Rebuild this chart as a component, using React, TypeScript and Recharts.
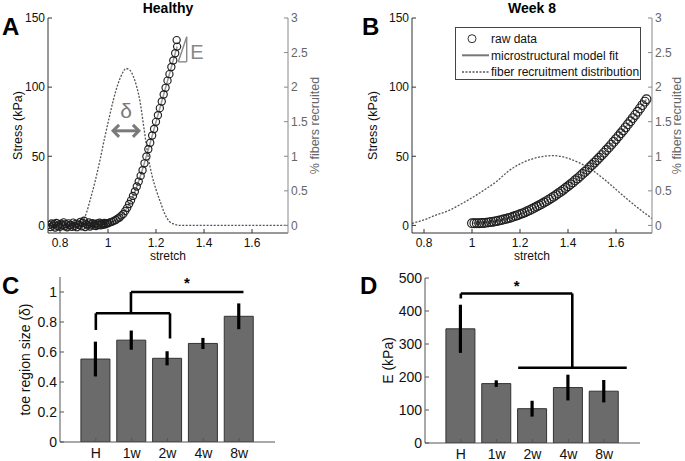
import React from 'react';
import {
  ComposedChart, Scatter, Line, XAxis, YAxis, ReferenceLine, ReferenceDot,
  BarChart, Bar, ErrorBar,
} from 'recharts';

// ---- panel A (healthy) : [stretch, stress kPa]
const rawA: [number, number][] = [
  [0.755, 0.2], [0.76, -1.2], [0.765, 1.4], [0.77, -0.2], [0.775, 1.0], [0.78, -1.5], [0.785, 1.8],
  [0.79, -0.5], [0.795, 0.6], [0.8, -1.0], [0.805, 1.2], [0.81, 0.1], [0.815, 2.2], [0.82, -0.7],
  [0.825, 0.8], [0.83, -1.4], [0.835, 1.5], [0.84, -0.1], [0.845, 0.4], [0.85, -1.1], [0.855, 2.0],
  [0.86, -0.4], [0.865, 1.1], [0.87, -1.3], [0.875, 1.3], [0.88, 0.2], [0.885, 2.6], [0.89, -0.6],
  [0.895, 1.7], [0.9, 3.4], [0.905, -1.2], [0.91, 0.9], [0.915, 0.0], [0.92, 2.1], [0.925, -0.8],
  [0.93, 0.7], [0.935, 1.6], [0.94, -0.2], [0.945, 1.0], [0.95, -0.5], [0.955, 1.4], [0.96, 0.3],
  [0.965, 1.9], [0.97, 0.1], [0.975, 1.1], [0.98, 0.5], [0.985, 1.7], [0.99, 0.8], [0.995, 1.5],
  [1.0, 1.6], [1.008, 2.2], [1.016, 2.6], [1.024, 3.3], [1.032, 3.9], [1.04, 4.9], [1.048, 5.7],
  [1.056, 7.1], [1.064, 8.3], [1.072, 10.5], [1.08, 12.7], [1.088, 15.5], [1.096, 18.1], [1.104, 21.3],
  [1.112, 24.5], [1.12, 28.1], [1.128, 31.7], [1.136, 35.8], [1.144, 39.9], [1.152, 44.9], [1.16, 49.9],
  [1.168, 55.1], [1.176, 59.8], [1.184, 65.0], [1.192, 69.7], [1.2, 74.9], [1.208, 79.7], [1.216, 84.8],
  [1.224, 89.6], [1.232, 94.7], [1.24, 99.5], [1.248, 104.7], [1.256, 109.4], [1.264, 114.6],
  [1.272, 119.3], [1.28, 124.5], [1.288, 129.3], [1.286, 134.0],
];
const fitA: [number, number][] = [
  [0.75, 0.4], [0.85, 0.4], [0.95, 0.6], [1.0, 1.6], [1.04, 4.8], [1.08, 12.8], [1.12, 28.0],
  [1.16, 50.0], [1.2, 74.8], [1.24, 99.6], [1.288, 129.4],
];
// % fibers recruited
const distA: [number, number][] = [
  [0.75, 0], [0.85, 0], [0.875, 0.01], [0.895, 0.07], [0.91, 0.18], [0.925, 0.36], [0.945, 0.62],
  [0.967, 0.95], [0.985, 1.25], [1.005, 1.56], [1.022, 1.81], [1.043, 2.06], [1.06, 2.2], [1.075, 2.27],
  [1.09, 2.25], [1.105, 2.16], [1.12, 2.0], [1.133, 1.8], [1.15, 1.4], [1.168, 0.98], [1.185, 0.7],
  [1.2, 0.52], [1.218, 0.34], [1.235, 0.18], [1.255, 0.06], [1.274, 0.02], [1.3, 0], [1.45, 0],
  [1.6, 0], [1.75, 0],
];

// ---- panel B (week 8)
const rawB: [number, number][] = [
  [1.0, 1.5], [1.01, 1.5], [1.02, 1.5], [1.03, 1.6], [1.04, 1.7], [1.05, 1.8], [1.06, 2.0], [1.07, 2.2],
  [1.08, 2.5], [1.09, 2.7], [1.1, 3.1], [1.11, 3.4], [1.12, 3.8], [1.13, 4.2], [1.14, 4.6], [1.15, 5.1],
  [1.16, 5.6], [1.17, 6.2], [1.18, 6.8], [1.19, 7.4], [1.2, 8.0], [1.21, 8.7], [1.22, 9.4], [1.23, 10.2],
  [1.24, 11.0], [1.25, 11.8], [1.26, 12.7], [1.27, 13.6], [1.28, 14.5], [1.29, 15.5], [1.3, 16.5],
  [1.31, 17.5], [1.32, 18.6], [1.33, 19.7], [1.34, 20.8], [1.35, 22.0], [1.36, 23.2], [1.37, 24.4],
  [1.38, 25.7], [1.39, 27.0], [1.4, 28.3], [1.41, 29.7], [1.42, 31.1], [1.43, 32.6], [1.44, 34.0],
  [1.45, 35.6], [1.46, 37.1], [1.47, 38.7], [1.48, 40.3], [1.49, 42.0], [1.5, 43.7], [1.51, 45.4],
  [1.52, 47.1], [1.53, 48.9], [1.54, 50.8], [1.55, 52.6], [1.56, 54.5], [1.57, 56.4], [1.58, 58.4],
  [1.59, 60.4], [1.6, 62.4], [1.61, 64.5], [1.62, 66.6], [1.63, 68.7], [1.64, 70.9], [1.65, 73.1],
  [1.66, 75.3], [1.67, 77.6], [1.68, 79.9], [1.69, 82.2], [1.7, 84.6], [1.71, 87.0], [1.72, 89.5],
  [1.727, 91.2],
];
const fitB: [number, number][] = [
  [1.0, 1.5], [1.1, 3.1], [1.2, 8.0], [1.3, 16.5], [1.4, 28.3], [1.5, 43.7], [1.6, 62.4], [1.7, 84.6],
  [1.727, 91.2],
];
const distB: [number, number][] = [
  [0.75, 0.03], [0.8, 0.08], [0.85, 0.15], [0.9, 0.21], [0.95, 0.3], [1.0, 0.4], [1.05, 0.51],
  [1.1, 0.63], [1.15, 0.78], [1.2, 0.89], [1.25, 0.96], [1.3, 1.0], [1.34, 1.01], [1.4, 0.97],
  [1.45, 0.9], [1.5, 0.8], [1.55, 0.67], [1.6, 0.52], [1.65, 0.37], [1.7, 0.23], [1.75, 0.1],
];

const stretchTicks = [0.8, 1, 1.2, 1.4, 1.6];
const stressTicks = [0, 50, 100, 150];
const fiberTicks = [0, 0.5, 1, 1.5, 2, 2.5, 3];

// ---- panels C, D
const groups = ['H', '1w', '2w', '4w', '8w'];
const groupPos = [1, 2, 3, 4, 5];
const toeMean = [0.553, 0.679, 0.558, 0.657, 0.838];
const toeErr = [0.116, 0.064, 0.047, 0.037, 0.086];
const modMean = [346, 180, 104, 168, 157];
const modErr = [73, 10, 24, 39, 34];
const toeTicks = [0, 0.2, 0.4, 0.6, 0.8, 1];
const modTicks = [0, 100, 200, 300, 400, 500];

const pts = (a: [number, number][]) => a.map(([x, y]) => ({ x, y }));
const barsC = groups.map((g, i) => ({ g, pos: groupPos[i], v: toeMean[i], err: toeErr[i] }));
const barsD = groups.map((g, i) => ({ g, pos: groupPos[i], v: modMean[i], err: modErr[i] }));

const ring = (r: number) => (p: any) => (
  <circle cx={p.cx} cy={p.cy} r={r} fill="none" stroke="#1e1e1e" strokeWidth={1.15} />
);

const dblArrow = (p: any) => {
  const { x1, y1, x2 } = p;
  const h = 7;
  return (
    <g stroke="#7a7a7a" strokeWidth={3} fill="none">
      <line x1={x1 + 1} y1={y1} x2={x2 - 1} y2={y1} />
      <polyline points={`${x1 + h},${y1 - 6} ${x1 + 1},${y1} ${x1 + h},${y1 + 6}`} />
      <polyline points={`${x2 - h},${y1 - 6} ${x2 - 1},${y1} ${x2 - h},${y1 + 6}`} />
    </g>
  );
};

const tick12 = { fontSize: 12, fill: '#111' };
const tickGray = { fontSize: 12, fill: '#666' };
const tick14 = { fontSize: 14, fill: '#111' };

function StressPanel({ raw, fit, dist, leftW, rightW, leftOff, rightOff, width, r, children }: any) {
  return (
    <ComposedChart width={width} height={263} margin={{ top: 18, right: 0, bottom: 0, left: 0 }}>
      <XAxis dataKey="x" type="number" domain={[0.75, 1.75]} ticks={stretchTicks} allowDataOverflow
        interval={0} height={30} tickSize={-4} tickMargin={9} stroke="#333" tick={tick12}
        label={{ value: 'stretch', position: 'insideBottom', offset: 3, fontSize: 12, fill: '#111' }} />
      <XAxis xAxisId="top" orientation="top" type="number" domain={[0.75, 1.75]} ticks={stretchTicks}
        allowDataOverflow interval={0} height={0} tick={false} tickSize={-4} stroke="#444" />
      <YAxis yAxisId="s" type="number" domain={[-5.5, 150]} ticks={stressTicks} allowDataOverflow
        interval={0} width={leftW} tickSize={-4} tickMargin={7} stroke="#333" tick={tick12}
        label={{ value: 'Stress (kPa)', angle: -90, position: 'insideLeft', offset: leftOff,
          style: { textAnchor: 'middle' }, fontSize: 12.5, fill: '#111' }} />
      <YAxis yAxisId="p" orientation="right" type="number" domain={[-0.11, 3]} ticks={fiberTicks}
        allowDataOverflow interval={0} width={rightW} tickSize={-4} tickMargin={7} stroke="#888"
        tick={tickGray}
        label={{ value: '% fibers recruited', angle: -90, position: 'insideRight', offset: rightOff,
          style: { textAnchor: 'middle' }, fontSize: 12.5, fill: '#666' }} />
      <Scatter yAxisId="s" data={pts(raw)} dataKey="y" shape={ring(r)} isAnimationActive={false} />
      <Line yAxisId="s" data={pts(fit)} dataKey="y" type="monotone" stroke="#9a9a9a" strokeWidth={1.5}
        dot={false} isAnimationActive={false} />
      <Line yAxisId="p" data={pts(dist)} dataKey="y" type="monotone" stroke="#555" strokeWidth={1.3}
        strokeDasharray="2 1.5" dot={false} isAnimationActive={false} />
      {children}
    </ComposedChart>
  );
}

function BarPanel({ data, domain, ticks, leftW, label, labelOff, width, marginRight, marginTop, xH, children }: any) {
  return (
    <BarChart width={width} height={199} data={data}
      margin={{ top: marginTop, right: marginRight, bottom: 0, left: 0 }}>
      <XAxis dataKey="pos" type="number" domain={[0, 6]} ticks={groupPos} allowDataOverflow interval={0}
        height={xH} tickSize={-4} tickMargin={10} stroke="#555" tick={tick14}
        tickFormatter={(v: number) => groups[v - 1]} />
      <XAxis xAxisId="t" orientation="top" type="number" domain={[0, 6]} ticks={groupPos} allowDataOverflow
        interval={0} height={0} tick={false} tickSize={-4} stroke="#999" />
      <YAxis type="number" domain={domain} ticks={ticks} allowDataOverflow interval={0} width={leftW}
        tickSize={-4} tickMargin={7} stroke="#555" tick={tick14}
        label={{ value: label, angle: -90, position: 'insideLeft', offset: labelOff,
          style: { textAnchor: 'middle' }, fontSize: 14, fill: '#111' }} />
      <YAxis yAxisId="r" orientation="right" type="number" domain={domain} ticks={ticks} allowDataOverflow
        width={0} tick={false} tickSize={-4} stroke="#999" />
      <Bar dataKey="v" fill="#6b6b6b" stroke="#333" strokeWidth={1} barSize={29} isAnimationActive={false}>
        <ErrorBar dataKey="err" width={0} strokeWidth={3.2} stroke="#000" direction="y" />
      </Bar>
      {children}
    </BarChart>
  );
}

const bl = { stroke: '#000', strokeWidth: 2.6, ifOverflow: 'visible' as const };
const seg = (x1: number, y1: number, x2: number, y2: number) => [{ x: x1, y: y1 }, { x: x2, y: y2 }];
const star = { value: '*', position: 'center' as const, fontSize: 15, fontWeight: 'bold', fill: '#000' };

export default function App() {
  return (
    <div style={{ position: 'absolute', left: 0, top: 0, width: 685, height: 461, background: '#fff',
      fontFamily: '"Liberation Sans", Arial, sans-serif', overflow: 'hidden' }}>
      <div style={{ position: 'absolute', left: 0, top: 0 }}>
        <StressPanel raw={rawA} fit={fitA} dist={distA} width={342} leftW={48} rightW={54} leftOff={18} rightOff={27} r={3.6}>
          <ReferenceLine yAxisId="s" segment={seg(1.017, 68.4, 1.133, 68.4)} shape={dblArrow} ifOverflow="visible" />
          <ReferenceDot yAxisId="s" x={1.075} y={83} r={1} fill="none" stroke="none"
            label={{ value: 'δ', position: 'center', fontSize: 21, fill: '#7a7a7a' }} />
          <ReferenceLine yAxisId="s" segment={seg(1.293, 118.3, 1.328, 136.4)} stroke="#888" strokeWidth={1.4} ifOverflow="visible" />
          <ReferenceLine yAxisId="s" segment={seg(1.328, 118.3, 1.328, 136.4)} stroke="#888" strokeWidth={1.4} ifOverflow="visible" />
          <ReferenceLine yAxisId="s" segment={seg(1.293, 118.3, 1.328, 118.3)} stroke="#888" strokeWidth={1.4} ifOverflow="visible" />
          <ReferenceDot yAxisId="s" x={1.37} y={125.5} r={1} fill="none" stroke="none"
            label={{ value: 'E', position: 'center', fontSize: 20, fill: '#888' }} />
        </StressPanel>
      </div>
      <div style={{ position: 'absolute', left: 342, top: 0 }}>
        <StressPanel raw={rawB} fit={fitB} dist={distB} width={343} leftW={70} rightW={33} leftOff={31} rightOff={8} r={4.4} />
      </div>
      <div style={{ position: 'absolute', left: 0, top: 262 }}>
        <BarPanel data={barsC} domain={[0, 1.1]} ticks={toeTicks} leftW={60} label="toe region size (δ)"
          labelOff={25} width={300} marginRight={25} marginTop={15} xH={19}>
          <ReferenceLine segment={seg(1, 0.747, 1, 0.858)} {...bl} />
          <ReferenceLine segment={seg(1, 0.858, 3.07, 0.858)} {...bl} />
          <ReferenceLine segment={seg(3.07, 0.69, 3.07, 0.858)} {...bl} />
          <ReferenceLine segment={seg(1.98, 0.858, 1.98, 1.0)} {...bl} />
          <ReferenceLine segment={seg(1.98, 1.0, 5.12, 1.0)} {...bl} />
          <ReferenceDot x={3.54} y={1.065} r={1} fill="none" stroke="none" label={star} />
        </BarPanel>
      </div>
      <div style={{ position: 'absolute', left: 340, top: 262 }}>
        <BarPanel data={barsD} domain={[0, 500]} ticks={modTicks} leftW={85} label="E (kPa)"
          labelOff={48} width={345} marginRight={45} marginTop={16} xH={18}>
          <ReferenceLine segment={seg(1, 438, 1, 453)} {...bl} />
          <ReferenceLine segment={seg(1, 453, 4.11, 453)} {...bl} />
          <ReferenceLine segment={seg(4.11, 228, 4.11, 453)} {...bl} />
          <ReferenceLine segment={seg(2.6, 228, 5.63, 228)} {...bl} />
          <ReferenceDot x={2.56} y={476} r={1} fill="none" stroke="none" label={star} />
        </BarPanel>
      </div>
      <svg width={685} height={461} style={{ position: 'absolute', left: 0, top: 0, pointerEvents: 'none' }}>
        <g fontWeight="bold" fontSize={24} fill="#000">
          <text x={2} y={35}>A</text>
          <text x={362} y={35}>B</text>
          <text x={2} y={294}>C</text>
          <text x={360} y={294}>D</text>
        </g>
        <g fontWeight="bold" fontSize={14} fill="#000" textAnchor="middle">
          <text x={168} y={13}>Healthy</text>
          <text x={532} y={13}>Week 8</text>
        </g>
        <g fontSize={12} fill="#111">
          <rect x={455.5} y={27.5} width={185} height={52} fill="#fff" stroke="#444" />
          <circle cx={472} cy={38.7} r={4} fill="none" stroke="#333" />
          <text x={491} y={43}>raw data</text>
          <line x1={462} y1={55.3} x2={489} y2={55.3} stroke="#777" strokeWidth={2} />
          <text x={491} y={59.5}>microstructural model fit</text>
          <line x1={462} y1={72} x2={489} y2={72} stroke="#555" strokeWidth={1.3} strokeDasharray="2 1.5" />
          <text x={491} y={76}>fiber recruitment distribution</text>
        </g>
      </svg>
    </div>
  );
}
